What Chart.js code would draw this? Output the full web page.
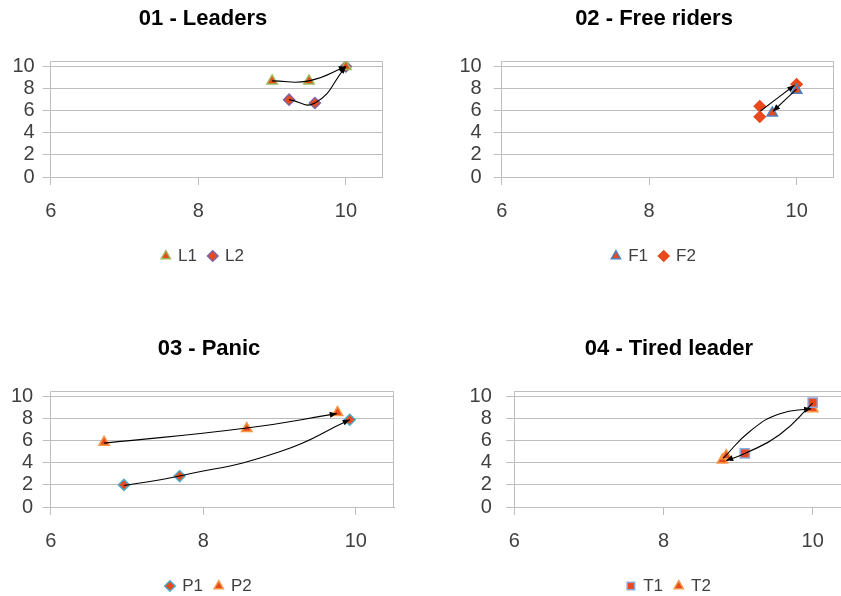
<!DOCTYPE html>
<html>
<head>
<meta charset="UTF-8" />
<title>Four scatter panels</title>
<script src="https://cdn.jsdelivr.net/npm/chart.js"></script>
<style>
  body {
    margin: 0;
    padding: 0;
    width: 841px;
    height: 596px;
    overflow: hidden;
    position: relative;
    background: #fff;
  }
  canvas {
    position: absolute;
    display: block;
  }
</style>
</head>
<body>
<canvas id="c1"></canvas>
<canvas id="c2"></canvas>
<canvas id="c3"></canvas>
<canvas id="c4"></canvas>
<script>
// ticks shared by all four panels
const xTicks = [6, 8, 10];
const yTicks = [0, 2, 4, 6, 8, 10];

// 01 - Leaders
const l1X = [9.0, 9.5, 10.0];
const l1Y = [8.7, 8.7, 10.0];
const l2X = [9.23, 9.58, 10.0];
const l2Y = [7.0, 6.7, 10.0];

// 02 - Free riders
const f1X = [9.67, 10.0];
const f1Y = [5.8, 7.85];
const f2X = [9.5, 9.5, 10.0];
const f2Y = [6.4, 5.45, 8.4];

// 03 - Panic
const p1X = [6.96, 7.69, 9.92];
const p1Y = [2.0, 2.8, 7.9];
const p2X = [6.7, 8.57, 9.76];
const p2Y = [5.85, 7.1, 8.55];

// 04 - Tired leader
const t1X = [9.09, 10.0];
const t1Y = [4.85, 9.45];
const t2X = [8.79, 8.84, 10.0];
const t2Y = [4.25, 4.65, 8.9];

// hand-drawn arrows over the markers
const arrL1X = [9.0, 9.5, 10.0];
const arrL1Y = [8.7, 8.7, 10.0];
const arrL2X = [9.23, 9.58, 10.0];
const arrL2Y = [7.0, 6.7, 10.0];
const arrF1X = [10.0, 9.68];
const arrF1Y = [7.95, 5.95];
const arrF2X = [9.51, 9.97];
const arrF2Y = [5.97, 8.3];
const arrP1X = [6.96, 7.69, 9.0, 9.92];
const arrP1Y = [1.95, 2.8, 5.0, 7.9];
const arrP2X = [6.7, 8.57, 9.75];
const arrP2Y = [5.78, 7.15, 8.45];
const arrTaX = [8.8, 9.16, 9.56, 9.98];
const arrTaY = [4.4, 6.86, 8.44, 8.9];
const arrTbX = [10.0, 9.56, 9.09, 8.84];
const arrTbY = [9.4, 6.56, 4.84, 4.2];

const FILL = '#E8491D';
const GRID = '#BDBDBD';
const TXT = '#404040';
const FONT = "'Liberation Sans', Arial, sans-serif";

const pts = (xs, ys) => xs.map((x, i) => ({ x: x, y: ys[i] }));

// light frame round the plot area (top and right edges)
const framePlugin = {
  id: 'frame',
  beforeDatasetsDraw(chart) {
    const { ctx, chartArea: a } = chart;
    ctx.save();
    ctx.strokeStyle = GRID;
    ctx.lineWidth = 1;
    const l = Math.round(a.left) + 0.5, t = Math.round(a.top) + 0.5;
    const r = Math.round(a.right) - 0.5, b = Math.round(a.bottom) + 0.5;
    ctx.beginPath();
    ctx.moveTo(l, t);
    ctx.lineTo(r, t);
    ctx.lineTo(r, b);
    ctx.stroke();
    ctx.restore();
  }
};

// title and legend are centred on their own x, not on the canvas
const centerPlugin = {
  id: 'centerBoxes',
  afterLayout(chart, args, opts) {
    [chart.titleBlock, chart.legend].forEach(b => {
      if (!b) return;
      b.left = opts.c - 170;
      b.right = opts.c + 170;
      b.width = 340;
    });
  }
};

// arrow heads at the end of the arrow paths
const arrowPlugin = {
  id: 'arrowHeads',
  afterDatasetsDraw(chart) {
    const ctx = chart.ctx;
    chart.data.datasets.forEach((ds, i) => {
      if (!ds.arrow) return;
      const el = chart.getDatasetMeta(i).data;
      const end = el[el.length - 1];
      const prev = el[el.length - 2];
      let fx = end.cp1x, fy = end.cp1y;
      if (fx === undefined || (Math.abs(fx - end.x) < 0.5 && Math.abs(fy - end.y) < 0.5)) {
        fx = prev.x; fy = prev.y;
      }
      const ang = Math.atan2(end.y - fy, end.x - fx);
      ctx.save();
      ctx.translate(end.x, end.y);
      ctx.rotate(ang);
      ctx.beginPath();
      ctx.moveTo(0, 0);
      ctx.lineTo(-7, -3);
      ctx.lineTo(-7, 3);
      ctx.closePath();
      ctx.fillStyle = '#000';
      ctx.fill();
      ctx.restore();
    });
  }
};

function makePanel(cfg) {
  const cv = document.getElementById(cfg.id);
  cv.width = cfg.w;
  cv.height = 280;
  cv.style.left = cfg.left + 'px';
  cv.style.top = cfg.top + 'px';

  const c = cfg.center - cfg.left;
  const pl = cfg.plotLeft - cfg.left;
  const pr = cfg.plotRight - cfg.left;
  const padR = cfg.w - pr;

  const datasets = [];
  cfg.series.forEach(s => datasets.push({
    label: s.label,
    data: pts(s.x, s.y),
    pointStyle: s.style,
    pointRadius: s.r,
    pointHoverRadius: s.r,
    backgroundColor: FILL,
    borderColor: s.edge,
    borderWidth: 1.5,
    showLine: false,
    order: 1
  }));
  cfg.arrows.forEach(a => datasets.push({
    label: '',
    data: pts(a.x, a.y),
    showLine: true,
    pointRadius: 0,
    pointHoverRadius: 0,
    borderColor: '#000',
    borderWidth: 1.1,
    tension: 0.5,
    arrow: true,
    order: 0
  }));

  new Chart(cv, {
    type: 'scatter',
    data: { datasets: datasets },
    plugins: [framePlugin, centerPlugin, arrowPlugin],
    options: {
      responsive: false,
      animation: false,
      events: [],
      layout: { padding: { left: 0, right: padR, top: 0, bottom: 5.5 } },
      plugins: {
        centerBoxes: { c: c },
        title: {
          display: true,
          text: cfg.title,
          color: '#000',
          font: { family: FONT, size: 22, weight: 'bold' },
          padding: { top: 5.5, bottom: 29.1 }
        },
        legend: {
          position: 'bottom',
          labels: {
            usePointStyle: true,
            boxWidth: 7.5,
            boxHeight: 7.5,
            padding: 12,
            color: TXT,
            font: { family: FONT, size: 17 },
            filter: (item, data) => !data.datasets[item.datasetIndex].arrow
          }
        },
        tooltip: { enabled: false }
      },
      scales: {
        x: {
          type: 'linear',
          min: 6,
          max: 10.5,
          afterBuildTicks: s => { s.ticks = xTicks.map(v => ({ value: v })); },
          afterFit: s => { s.height = 58.5; },
          grid: { drawOnChartArea: false, drawTicks: true, tickLength: 8, color: GRID },
          border: { display: true, color: GRID },
          ticks: { padding: 14, color: TXT, autoSkip: false, maxRotation: 0, font: { family: FONT, size: 20 } }
        },
        y: {
          type: 'linear',
          min: 0,
          max: 10.5,
          afterBuildTicks: s => { s.ticks = yTicks.map(v => ({ value: v })); },
          afterFit: s => { s.width = pl; },
          grid: { drawOnChartArea: true, drawTicks: true, tickLength: 8, color: GRID },
          border: { display: true, color: GRID },
          ticks: { padding: cfg.yPad, color: TXT, autoSkip: false, font: { family: FONT, size: 20 } }
        }
      }
    }
  });
}

makePanel({
  id: 'c1', left: 0, top: 0, w: 420, center: 203, plotLeft: 50.7, plotRight: 382.8, yPad: 8,
  title: '01 - Leaders',
  series: [
    { label: 'L1', x: l1X, y: l1Y, style: 'triangle', r: 6, edge: '#9BBB59' },
    { label: 'L2', x: l2X, y: l2Y, style: 'rectRot', r: 5.5, edge: '#8064A2' }
  ],
  arrows: [{ x: arrL1X, y: arrL1Y }, { x: arrL2X, y: arrL2Y }]
});

makePanel({
  id: 'c2', left: 420, top: 0, w: 421, center: 654, plotLeft: 501.7, plotRight: 833.8, yPad: 12,
  title: '02 - Free riders',
  series: [
    { label: 'F1', x: f1X, y: f1Y, style: 'triangle', r: 6, edge: '#4F81BD' },
    { label: 'F2', x: f2X, y: f2Y, style: 'rectRot', r: 5.5, edge: FILL }
  ],
  arrows: [{ x: arrF1X, y: arrF1Y }, { x: arrF2X, y: arrF2Y }]
});

makePanel({
  id: 'c3', left: 0, top: 330, w: 420, center: 209, plotLeft: 50.7, plotRight: 394, yPad: 9.5,
  title: '03 - Panic',
  series: [
    { label: 'P1', x: p1X, y: p1Y, style: 'rectRot', r: 5.5, edge: '#4BACC6' },
    { label: 'P2', x: p2X, y: p2Y, style: 'triangle', r: 6, edge: '#F79646' }
  ],
  arrows: [{ x: arrP1X, y: arrP1Y }, { x: arrP2X, y: arrP2Y }]
});

makePanel({
  id: 'c4', left: 420, top: 330, w: 440, center: 669, plotLeft: 514.3, plotRight: 850, yPad: 14.5,
  title: '04 - Tired leader',
  series: [
    { label: 'T1', x: t1X, y: t1Y, style: 'rect', r: 6.5, edge: '#8EA9DB' },
    { label: 'T2', x: t2X, y: t2Y, style: 'triangle', r: 6, edge: '#F79646' }
  ],
  arrows: [{ x: arrTaX, y: arrTaY }, { x: arrTbX, y: arrTbY }]
});
</script>
</body>
</html>
